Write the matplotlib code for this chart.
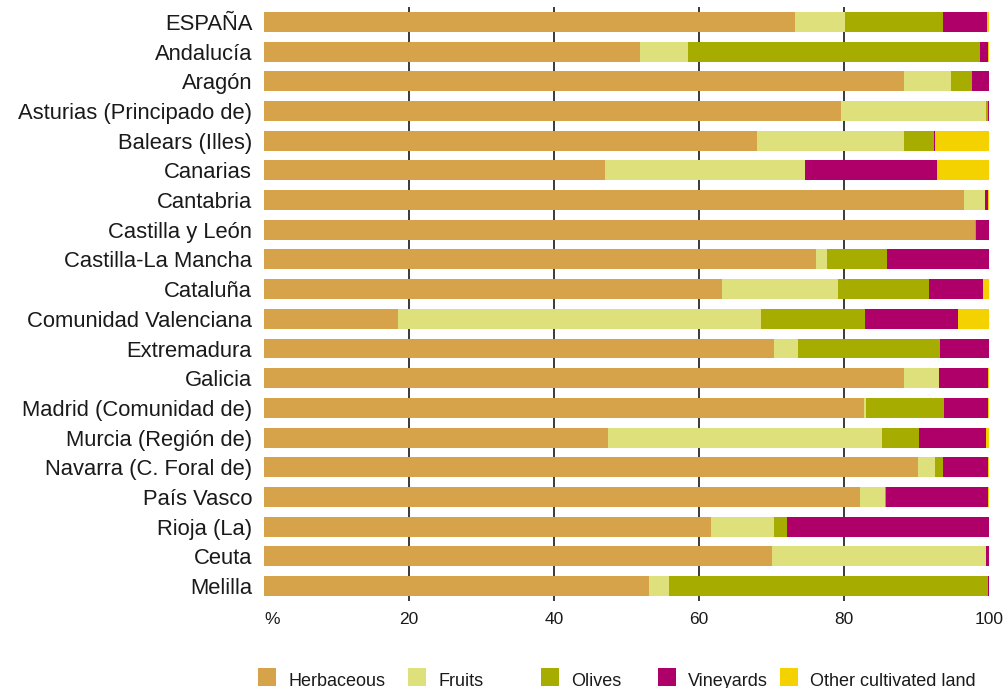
import matplotlib
matplotlib.use("Agg")
import matplotlib.pyplot as plt
from matplotlib.patches import Rectangle
import numpy as np

plt.rcParams['font.family'] = ['Liberation Sans', 'DejaVu Sans']

regions = [
    "ESPAÑA", "Andalucía", "Aragón", "Asturias (Principado de)", "Balears (Illes)",
    "Canarias", "Cantabria", "Castilla y León", "Castilla-La Mancha", "Cataluña",
    "Comunidad Valenciana", "Extremadura", "Galicia", "Madrid (Comunidad de)",
    "Murcia (Región de)", "Navarra (C. Foral de)", "País Vasco", "Rioja (La)",
    "Ceuta", "Melilla",
]

herbaceous = [73.3, 51.9, 88.2, 79.6, 68.0, 47.0, 96.5, 98.0, 76.1, 63.2,
              18.5, 70.4, 88.3, 82.8, 47.5, 90.2, 82.2, 61.6, 70.0, 53.1]
fruits = [6.8, 6.6, 6.6, 20.0, 20.3, 27.6, 3.0, 0.1, 1.6, 15.9,
          50.0, 3.3, 4.8, 0.2, 37.8, 2.4, 3.5, 8.8, 29.6, 2.8]
olives = [13.5, 40.3, 2.9, 0.3, 4.1, 0.0, 0.0, 0.1, 8.2, 12.6,
          14.4, 19.5, 0.0, 10.8, 5.0, 1.1, 0.1, 1.7, 0.0, 44.0]
vineyards = [6.1, 1.1, 2.3, 0.1, 0.1, 18.2, 0.3, 1.8, 14.1, 7.4,
             12.8, 6.8, 6.8, 6.1, 9.3, 6.2, 14.1, 27.9, 0.4, 0.1]
other = [0.3, 0.1, 0.0, 0.0, 7.5, 7.2, 0.2, 0.0, 0.0, 0.9,
         4.3, 0.0, 0.1, 0.1, 0.4, 0.1, 0.1, 0.0, 0.0, 0.0]

series_names = ["Herbaceous", "Fruits", "Olives", "Vineyards", "Other cultivated land"]
series_values = [herbaceous, fruits, olives, vineyards, other]
colors = ["#D6A24A", "#DEE17B", "#A6AD00", "#AE0068", "#F4D200"]

tick_values = [0, 20, 40, 60, 80, 100]
tick_labels = ["%", "20", "40", "60", "80", "100"]

fig = plt.figure(figsize=(10.07, 6.88), dpi=100)
ax = fig.add_axes([0.2622, 0.1265, 0.7200, 0.8633])

y = np.arange(len(regions))
left = np.zeros(len(regions))
for name, vals, col in zip(series_names, series_values, colors):
    vals = np.array(vals)
    ax.barh(y, vals, left=left, height=0.67, color=col, edgecolor="none", zorder=3)
    left += vals

ax.set_ylim(len(regions) - 0.5, -0.5)
ax.set_xlim(0, 100)
ax.set_yticks(y)
ax.set_yticklabels(regions, fontsize=15.8, color="#1a1a1a")
ax.set_xticks(tick_values)
ax.set_xticklabels(tick_labels, fontsize=12.5, color="#1a1a1a")
ax.tick_params(axis="y", length=0, pad=8.5)
ax.tick_params(axis="x", length=0, pad=8)
for s in ax.spines.values():
    s.set_visible(False)

# "%" sits just right of the axis origin
ax.get_xticklabels()[0].set_horizontalalignment("left")

for xv in tick_values[1:-1]:
    ax.axvline(xv, color="#3a3a3a", linewidth=1.4, zorder=1)

# Legend along the bottom edge
legend_x = [258, 408, 541, 658, 780]
for name, col, px in zip(series_names, colors, legend_x):
    fig.patches.append(Rectangle((px / 1007, 1 - 686 / 688), 18 / 1007, 18 / 688,
                                 transform=fig.transFigure, facecolor=col,
                                 edgecolor="none"))
    fig.text((px + 30) / 1007, 1 - 686 / 688, name, fontsize=13, color="#1a1a1a",
             ha="left", va="baseline")

fig.savefig("out.png", dpi=100)
